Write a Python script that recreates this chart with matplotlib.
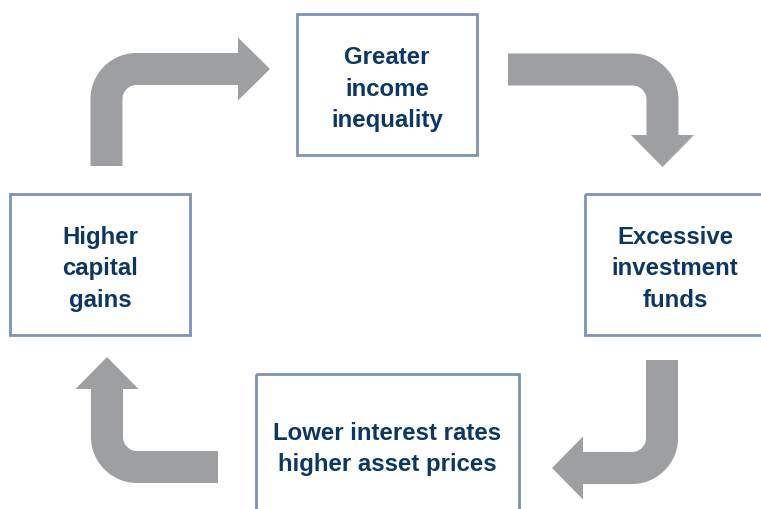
import numpy as np
import matplotlib.pyplot as plt
from matplotlib.patches import Rectangle, Polygon

plt.rcParams["font.family"] = ["Liberation Sans", "DejaVu Sans"]

# box labels, clockwise from the top
labels = [
    ["Greater", "income", "inequality"],
    ["Excessive", "investment", "funds"],
    ["Lower interest rates", "higher asset prices"],
    ["Higher", "capital", "gains"],
]

# box geometry (pixels: x0, y0, x1, y1)
boxes = [
    (297, 15, 477, 156),
    (585, 195, 775, 336),
    (256, 375, 519, 520),
    (10, 195, 190, 336),
]
text_centres = [(387, 89), (675, 269), (387, 449), (100, 269)]

navy = "#0d3763"
edge = "#7e93b4"
grey = "#9d9fa2"

W, H = 761, 510
fig = plt.figure(figsize=(W / 100, H / 100), dpi=100)
ax = fig.add_axes([0, 0, 1, 1])
ax.set_xlim(0, W)
ax.set_ylim(H, 0)
ax.axis("off")


def elbow(start, corner, end, r, width, head_len, head_w):
    # centreline: straight, rounded corner, straight
    p0, c, p1 = np.array(start, float), np.array(corner, float), np.array(end, float)
    d0 = (c - p0) / np.linalg.norm(c - p0)
    d1 = (p1 - c) / np.linalg.norm(p1 - c)
    a = c - d0 * r
    b = c + d1 * r
    t = np.linspace(0, 1, 40)[:, None]
    # cubic bezier through the corner, close to a quarter circle
    k = 0.55
    q0, q1 = a + d0 * r * k, b - d1 * r * k
    curve = ((1 - t) ** 3 * a + 3 * (1 - t) ** 2 * t * q0
             + 3 * (1 - t) * t ** 2 * q1 + t ** 3 * b)
    pts = np.vstack([p0, curve, p1])
    lw = width * 72 / 100
    ax.plot(pts[:, 0], pts[:, 1], color=grey, lw=lw,
            solid_capstyle="butt", solid_joinstyle="round")
    n = np.array([-d1[1], d1[0]])
    tip = p1 + d1 * head_len
    ax.add_patch(Polygon([p1 + n * head_w / 2, tip, p1 - n * head_w / 2],
                         closed=True, color=grey, lw=0))


elbow((106.5, 167), (106.5, 70), (238, 70), 30, 32, 32, 63)
elbow((508, 70.5), (662.5, 70.5), (662.5, 136), 30, 32, 32, 63)
elbow((662, 361), (662, 469), (583, 469), 30, 32, 31, 63)
elbow((218, 468), (107, 468), (107, 390), 30, 32, 32, 63)

for (x0, y0, x1, y1) in boxes:
    ax.add_patch(Rectangle((x0, y0), x1 - x0, y1 - y0, fill=False,
                           edgecolor=edge, lw=2, clip_on=True))

step = 31.5
for lines, (cx, cy) in zip(labels, text_centres):
    top = cy - step * (len(lines) - 1) / 2
    for i, s in enumerate(lines):
        ax.text(cx, top + i * step, s, ha="center", va="center",
                fontsize=17.3, fontweight="bold", color=navy)

fig.savefig("out.png", dpi=100)
